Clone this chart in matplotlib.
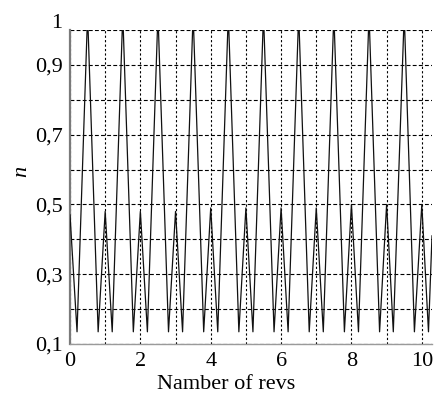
import matplotlib
matplotlib.use("Agg")
import matplotlib.pyplot as plt
from matplotlib.transforms import ScaledTranslation

# Vertices of the n(revs) trace: small peak, minimum, main peak, minimum per revolution
revs = [0.00, 0.20, 0.485, 0.515, 0.80,
        1.00, 1.20, 1.485, 1.515, 1.80,
        2.00, 2.20, 2.485, 2.515, 2.80,
        3.00, 3.20, 3.485, 3.515, 3.80,
        4.00, 4.20, 4.485, 4.515, 4.80,
        5.00, 5.20, 5.485, 5.515, 5.80,
        6.00, 6.20, 6.485, 6.515, 6.80,
        7.00, 7.20, 7.485, 7.515, 7.80,
        8.00, 8.20, 8.485, 8.515, 8.80,
        9.00, 9.19, 9.485, 9.515, 9.79,
        10.00, 10.19, 10.29]
n_vals = [0.47, 0.135, 1.00, 1.00, 0.135,
          0.48, 0.135, 1.00, 1.00, 0.135,
          0.48, 0.135, 1.00, 1.00, 0.135,
          0.48, 0.135, 1.00, 1.00, 0.135,
          0.49, 0.135, 1.00, 1.00, 0.135,
          0.49, 0.135, 1.00, 1.00, 0.135,
          0.49, 0.135, 1.00, 1.00, 0.135,
          0.49, 0.135, 1.00, 1.00, 0.135,
          0.50, 0.135, 1.00, 1.00, 0.135,
          0.50, 0.135, 1.00, 1.00, 0.135,
          0.50, 0.135, 0.41]

x_grid = [0, 1, 2, 3, 4, 5, 6, 7, 8, 9, 10]
x_labels = ["0", "", "2", "", "4", "", "6", "", "8", "", "10"]
y_grid = [0.1, 0.2, 0.3, 0.4, 0.5, 0.6, 0.7, 0.8, 0.9, 1.0]
y_labels = ["0,1", "", "0,3", "", "0,5", "", "0,7", "", "0,9", "1"]

plt.rcParams["font.family"] = ["Liberation Serif", "DejaVu Serif"]
FS = 16

fig = plt.figure(figsize=(4.36, 3.99), dpi=100)
ax = fig.add_axes([70 / 436, 55 / 399, 362 / 436, 314 / 399])

ax.set_xlim(0, 10.29)
ax.set_ylim(0.1, 1.0)

for xv in x_grid:
    ax.axvline(xv, color="black", lw=0.8, ls=(0, (2, 2)), zorder=1)
for yv in y_grid:
    ax.axhline(yv, color="black", lw=0.8, ls=(0, (3.5, 2)), zorder=1)

ax.plot(revs, n_vals, color="#111111", lw=0.9, zorder=3)

ax.set_xticks(x_grid)
ax.set_xticklabels(x_labels, fontsize=FS)
ax.set_yticks(y_grid)
ax.set_yticklabels(y_labels, fontsize=FS)
ax.tick_params(axis="both", length=0)
ax.tick_params(axis="x", pad=5.8)
ax.tick_params(axis="y", pad=5.4)

# lift the top "1" label above its gridline
top_label = ax.get_yticklabels()[-1]
top_label.set_transform(top_label.get_transform() +
                        ScaledTranslation(0, 6.5 / 72, fig.dpi_scale_trans))

for side in ("top", "right"):
    ax.spines[side].set_visible(False)
ax.spines["left"].set_color("#7a7a7a")
ax.spines["left"].set_linewidth(1.6)
ax.spines["bottom"].set_color("#9a9a9a")
ax.spines["bottom"].set_linewidth(1.0)

ax.set_xlabel("Namber of revs", fontsize=FS, va="top")
ax.xaxis.set_label_coords(0.432, -0.099)
ax.set_ylabel("n", fontsize=FS, style="italic", va="center")
ax.yaxis.set_label_coords(-0.133, 0.55)

fig.savefig("out.png", dpi=100)
